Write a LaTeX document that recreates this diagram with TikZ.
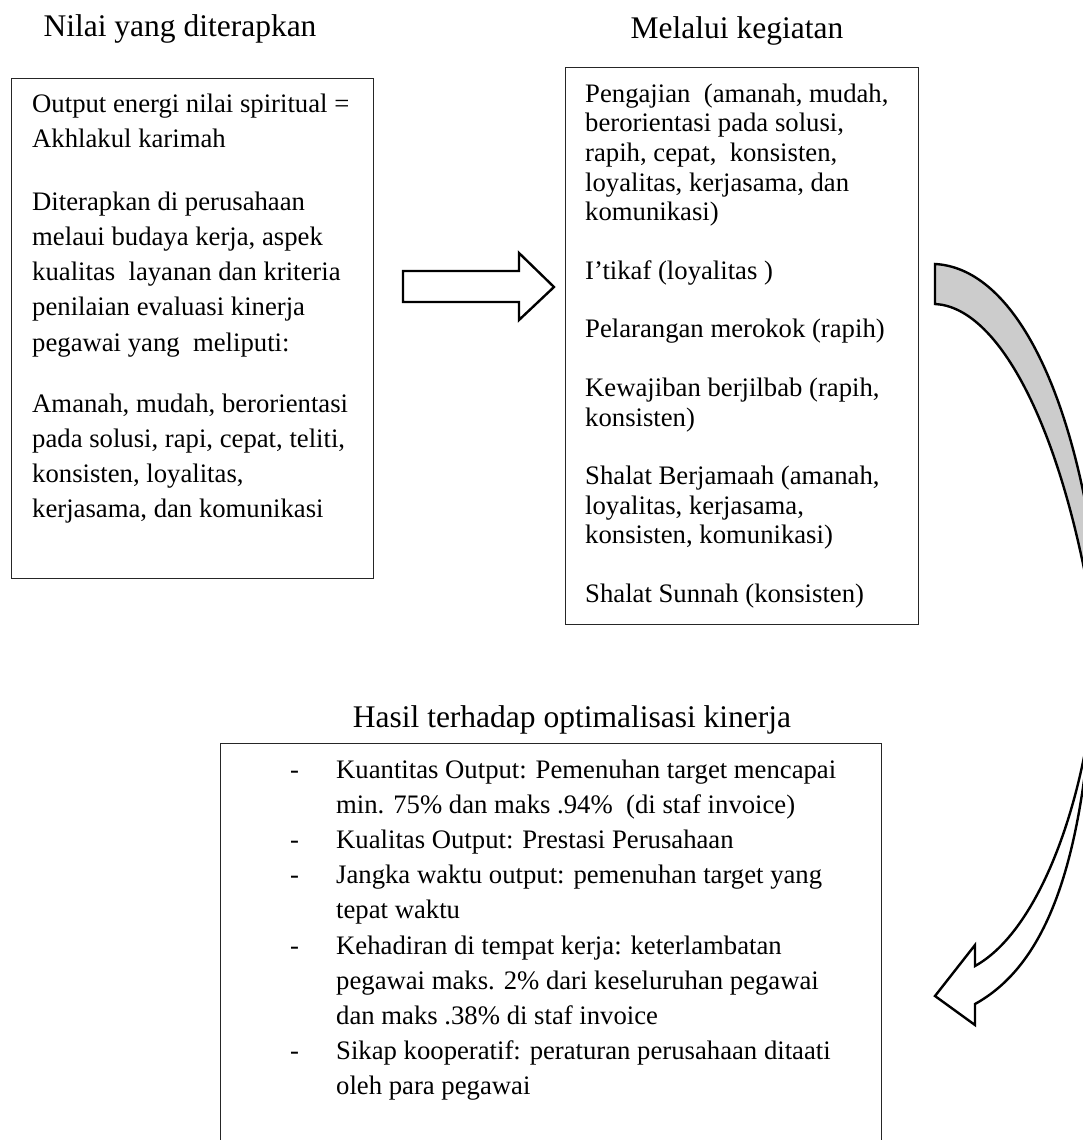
\documentclass[tikz,border=0pt]{standalone}
\usepackage{fontspec}
\setmainfont{Liberation Serif}
\tikzset{
  box/.style={draw=black!85, line width=1.4pt, inner sep=0pt, anchor=north west},
  ttl/.style={font=\fontsize{31.5}{36}\selectfont, anchor=base, inner sep=0pt},
  txt/.style={font=\fontsize{26.7}{30}\selectfont, anchor=base west, inner sep=0pt},
  arr/.style={draw=black, line width=2.4pt, line join=miter},
}
\begin{document}
\begin{tikzpicture}[x=1pt,y=-1pt]
\useasboundingbox (0,0) rectangle (1083,1140);
\clip (0,0) rectangle (1083,1140);
\fill[white] (0,0) rectangle (1083,1140);

% titles
\node[ttl] (t1) at (180,37) {Nilai yang diterapkan};
\node[ttl] (t2) at (737,38) {Melalui kegiatan};
\node[ttl] (t3) at (572,727) {Hasil terhadap optimalisasi kinerja};

% boxes
\node[box, minimum width=362pt, minimum height=500pt] (lbox) at (11,78) {};
\node[box, minimum width=353pt, minimum height=557pt] (rbox) at (565,67) {};
\node[box, minimum width=661pt, minimum height=430pt] (bbox) at (220,743) {};

% left box text
\node[txt] (l1) at (32,112) {Output energi nilai spiritual =};
\node[txt] (l2) at (32,147.3) {Akhlakul karimah};
\node[txt] (l3) at (32,210) {Diterapkan di perusahaan};
\node[txt] (l4) at (32,245.3) {melaui budaya kerja, aspek};
\node[txt] (l5) at (32,280.6) {kualitas\ \ layanan dan kriteria};
\node[txt] (l6) at (32,315.9) {penilaian evaluasi kinerja};
\node[txt] (l7) at (32,351.2) {pegawai yang\ \ meliputi:};
\node[txt] (l8) at (32,412) {Amanah, mudah, berorientasi};
\node[txt] (l9) at (32,447.3) {pada solusi, rapi, cepat, teliti,};
\node[txt] (l10) at (32,482.6) {konsisten, loyalitas,};
\node[txt] (l11) at (32,517.9) {kerjasama, dan komunikasi};

% right box text
\node[txt] (r1) at (585,102) {Pengajian\ \ (amanah, mudah,};
\node[txt] (r2) at (585,131.7) {berorientasi pada solusi,};
\node[txt] (r3) at (585,161.4) {rapih, cepat,\ \ konsisten,};
\node[txt] (r4) at (585,191.1) {loyalitas, kerjasama, dan};
\node[txt] (r5) at (585,220.8) {komunikasi)};
\node[txt] (r6) at (585,279.3) {I’tikaf (loyalitas )};
\node[txt] (r7) at (585,337.8) {Pelarangan merokok (rapih)};
\node[txt] (r8) at (585,396.3) {Kewajiban berjilbab (rapih,};
\node[txt] (r9) at (585,426) {konsisten)};
\node[txt] (r10) at (585,484.5) {Shalat Berjamaah (amanah,};
\node[txt] (r11) at (585,514.2) {loyalitas, kerjasama,};
\node[txt] (r12) at (585,543.9) {konsisten, komunikasi)};
\node[txt] (r13) at (585,602.4) {Shalat Sunnah (konsisten)};

% bottom box text
\node[txt] (d1) at (290,778) {-};
\node[txt] (b1) at (336,778) {Kuantitas Output: Pemenuhan target mencapai};
\node[txt] (b2) at (336,813.2) {min. 75\% dan maks .94\%\ \ (di staf invoice)};
\node[txt] (d2) at (290,848.4) {-};
\node[txt] (b3) at (336,848.4) {Kualitas Output: Prestasi Perusahaan};
\node[txt] (d3) at (290,883.6) {-};
\node[txt] (b4) at (336,883.6) {Jangka waktu output: pemenuhan target yang};
\node[txt] (b5) at (336,918.8) {tepat waktu};
\node[txt] (d4) at (290,954) {-};
\node[txt] (b6) at (336,954) {Kehadiran di tempat kerja: keterlambatan};
\node[txt] (b7) at (336,989.2) {pegawai maks. 2\% dari keseluruhan pegawai};
\node[txt] (b8) at (336,1024.4) {dan maks .38\% di staf invoice};
\node[txt] (d5) at (290,1059.6) {-};
\node[txt] (b9) at (336,1059.6) {Sikap kooperatif: peraturan perusahaan ditaati};
\node[txt] (b10) at (336,1094.8) {oleh para pegawai};

% block arrow between the two top boxes
\draw[arr, fill=white] (403,271) -- (519,271) -- (519,253) -- (554,287)
  -- (519,320) -- (519,302) -- (403,302) -- cycle;

% curved arrow: back (grey) part
\draw[arr, fill=black!20] (935,304) -- (935,264)
  .. controls (1010,268) and (1070,380) .. (1095,560)
  -- (1100,600) -- (1090,600)
  .. controls (1058,420) and (997,307) .. (935,304) -- cycle;
% curved arrow: front (white) part with head
\draw[arr, fill=white] (1095,680)
  .. controls (1085,800) and (1040,930) .. (975,966)
  -- (975,945) -- (935,996) -- (975,1025) -- (975,1004)
  .. controls (1040,968) and (1080,880) .. (1092,700) -- cycle;
\end{tikzpicture}
\end{document}
